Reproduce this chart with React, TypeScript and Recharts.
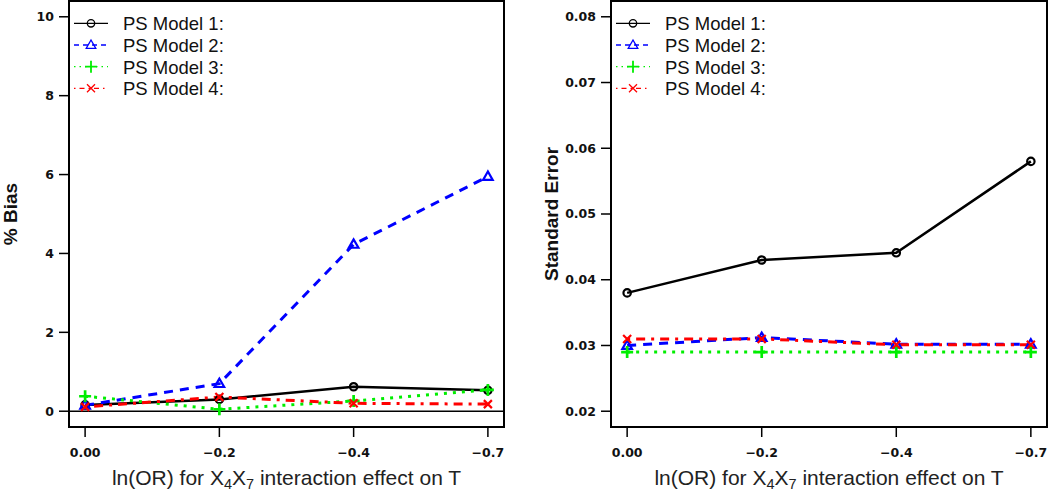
import React from 'react';
import { LineChart, Line, XAxis, YAxis, ReferenceLine, ReferenceArea, Label } from 'recharts';

const xLabels = ['0.00', '\u22120.2', '\u22120.4', '\u22120.7'];
const seriesNames = ['PS Model 1:', 'PS Model 2:', 'PS Model 3:', 'PS Model 4:'];

// % Bias panel
const bias1 = [0.16, 0.3, 0.62, 0.53];
const bias2 = [0.15, 0.7, 4.23, 5.95];
const bias3 = [0.38, 0.05, 0.26, 0.54];
const bias4 = [0.11, 0.36, 0.2, 0.18];
const biasTicks = [0, 2, 4, 6, 8, 10];

// Standard error panel
const se1 = [0.038, 0.043, 0.0441, 0.058];
const se2 = [0.03, 0.0312, 0.0302, 0.0302];
const se3 = [0.029, 0.029, 0.029, 0.029];
const se4 = [0.031, 0.031, 0.0301, 0.0301];
const seTicks = [0.02, 0.03, 0.04, 0.05, 0.06, 0.07, 0.08];

const FONT = '"Liberation Sans", Arial, sans-serif';
const TICK_FONT = '"DejaVu Sans", Verdana, sans-serif';

const seriesStyle = [
  { key: 'm1', color: '#000000', dash: undefined, width: 2.5, shape: 'circle', legendDash: undefined },
  { key: 'm2', color: '#0000ff', dash: '9 7', width: 3, shape: 'triangle', legendDash: '5 4' },
  { key: 'm3', color: '#00ee00', dash: '3 6', width: 3, shape: 'plus', legendDash: '1.5 4' },
  { key: 'm4', color: '#ff0000', dash: '3 6 9 6', width: 3, shape: 'cross', legendDash: '1.5 4 5 4' },
];

const toRows = (cols: number[][]) =>
  xLabels.map((_, i) => ({ idx: i, m1: cols[0][i], m2: cols[1][i], m3: cols[2][i], m4: cols[3][i] }));

function Marker({ shape, color, cx, cy, sw }: { shape: string; color: string; cx: number; cy: number; sw: number }) {
  if (shape === 'circle') return <circle cx={cx} cy={cy} r={3.7} fill="none" stroke={color} strokeWidth={sw} />;
  if (shape === 'triangle') {
    const p = `${cx},${cy - 5} ${cx - 4.8},${cy + 3.4} ${cx + 4.8},${cy + 3.4}`;
    return <polygon points={p} fill="none" stroke={color} strokeWidth={sw} />;
  }
  if (shape === 'plus')
    return (
      <path d={`M${cx - 6},${cy}H${cx + 6}M${cx},${cy - 6}V${cy + 6}`} stroke={color} strokeWidth={sw + 0.5} />
    );
  return (
    <path d={`M${cx - 4},${cy - 4}L${cx + 4},${cy + 4}M${cx - 4},${cy + 4}L${cx + 4},${cy - 4}`} stroke={color} strokeWidth={sw} />
  );
}

function XTitle(props: any) {
  const vb = props.viewBox || { x: 0, y: 0, width: 0, height: 0 };
  const cx = vb.x + vb.width / 2;
  return (
    <text x={cx} y={vb.y + vb.height - 6} textAnchor="middle" fontFamily={FONT} fontSize={21} fill="#222">
      <tspan>ln(OR) for X</tspan>
      <tspan dy={3.5} fontSize={14.5}>4</tspan>
      <tspan dy={-3.5}>X</tspan>
      <tspan dy={3.5} fontSize={14.5}>7</tspan>
      <tspan dy={-3.5}> interaction effect on T</tspan>
    </text>
  );
}

function LegendBox({ left }: { left: number }) {
  const rowY = [23.3, 45, 66.7, 88.3];
  return (
    <svg width={300} height={100} style={{ position: 'absolute', left: 0, top: 0 }}>
      {seriesStyle.map((s, i) => (
        <g key={s.key}>
          <line x1={left + 5} x2={left + 39} y1={rowY[i]} y2={rowY[i]} stroke={s.color} strokeWidth={1.3} strokeDasharray={s.legendDash} />
          <Marker shape={s.shape} color={s.color} cx={left + 22} cy={rowY[i]} sw={1.3} />
          <text x={left + 54} y={rowY[i] + 7} fontFamily={FONT} fontSize={18.5} fill="#111">
            {seriesNames[i]}
          </text>
        </g>
      ))}
    </svg>
  );
}

function Panel({ cols, domain, ticks, yLabel, axisWidth, rightMargin, fmt, zeroLine, labelX }: any) {
  const rows = toRows(cols);
  return (
    <div style={{ position: 'relative', width: 525, height: 491 }}>
      <LineChart width={525} height={491} data={rows} margin={{ top: 1, right: rightMargin, bottom: 0, left: 0 }}>
        <ReferenceArea x1={-0.12} x2={3.12} y1={domain[0]} y2={domain[1]} fill="none" stroke="#000" strokeWidth={2} />
        {zeroLine && <ReferenceLine y={0} stroke="#000" strokeWidth={1.5} />}
        <XAxis
          dataKey="idx"
          type="number"
          domain={[-0.12, 3.12]}
          ticks={[0, 1, 2, 3]}
          interval={0}
          allowDataOverflow
          tickFormatter={(v: number) => xLabels[v]}
          height={64}
          axisLine={false}
          tickSize={10}
          tickMargin={11}
          tickLine={{ stroke: '#000', strokeWidth: 1.5 }}
          tick={{ fill: '#111', fontSize: 12.5, fontWeight: 'bold', fontFamily: TICK_FONT }}
        >
          <Label content={XTitle} />
        </XAxis>
        <YAxis
          type="number"
          domain={domain}
          ticks={ticks}
          interval={0}
          allowDataOverflow
          width={axisWidth}
          axisLine={false}
          tickSize={10}
          tickMargin={5}
          tickFormatter={fmt}
          tickLine={{ stroke: '#000', strokeWidth: 1.5 }}
          tick={{ fill: '#111', fontSize: 12.5, fontWeight: 'bold', fontFamily: TICK_FONT }}
        >
          <Label
            content={(p: any) => {
              const vb = p.viewBox || { y: 0, height: 0 };
              const cy = vb.y + vb.height / 2;
              return (
                <text
                  x={labelX}
                  y={cy}
                  transform={`rotate(-90 ${labelX} ${cy})`}
                  textAnchor="middle"
                  fontFamily={FONT}
                  fontSize={19}
                  fontWeight="bold"
                  fill="#111"
                >
                  {yLabel}
                </text>
              );
            }}
          />
        </YAxis>
        {seriesStyle.map((s) => (
          <Line
            key={s.key}
            dataKey={s.key}
            type="linear"
            stroke={s.color}
            strokeWidth={s.width}
            strokeDasharray={s.dash}
            isAnimationActive={false}
            activeDot={false}
            dot={(p: any) => <Marker key={`${s.key}-${p.index}`} shape={s.shape} color={s.color} cx={p.cx} cy={p.cy} sw={2.2} />}
          />
        ))}
      </LineChart>
      <LegendBox left={axisWidth} />
    </div>
  );
}

export default function App() {
  return (
    <div style={{ position: 'absolute', left: 0, top: 0, width: 1050, height: 491, background: '#fff', display: 'flex' }}>
      <Panel
        cols={[bias1, bias2, bias3, bias4]}
        domain={[-0.4, 10.4]}
        ticks={biasTicks}
        yLabel="% Bias"
        axisWidth={69}
        rightMargin={21}
        fmt={(v: number) => String(v)}
        zeroLine
        labelX={17}
      />
      <Panel
        cols={[se1, se2, se3, se4]}
        domain={[0.0176, 0.0824]}
        ticks={seTicks}
        yLabel="Standard Error"
        axisWidth={86}
        rightMargin={3}
        fmt={(v: number) => v.toFixed(2)}
        zeroLine={false}
        labelX={33}
      />
    </div>
  );
}
